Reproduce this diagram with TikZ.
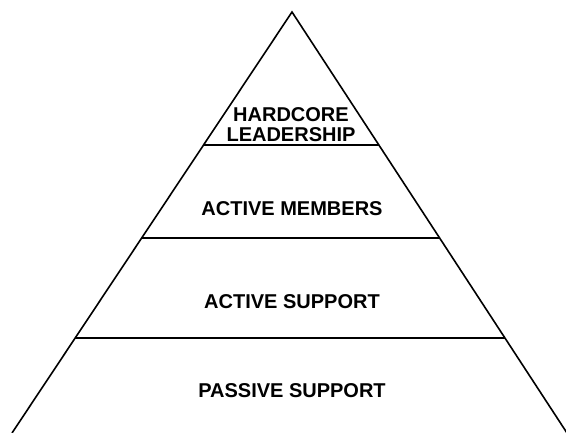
\documentclass[tikz,border=0pt]{standalone}
\usepackage{fontspec}
\setmainfont{Liberation Sans}
\usepackage{tikz}
\usetikzlibrary{calc}

\begin{document}
\begin{tikzpicture}[x=1pt,y=-1pt,
  layer/.style={font=\fontsize{20}{20}\selectfont\bfseries,align=center,inner sep=0pt}]
\useasboundingbox (0,0) rectangle (566,433);
\coordinate (apex) at (292,12);
\coordinate (bl) at (12,433);
\coordinate (br) at (567,433);
\coordinate (l1) at ($(apex)!0.316!(bl)$);
\coordinate (r1) at ($(apex)!0.316!(br)$);
\coordinate (l2) at ($(apex)!0.537!(bl)$);
\coordinate (r2) at ($(apex)!0.537!(br)$);
\coordinate (l3) at ($(apex)!0.774!(bl)$);
\coordinate (r3) at ($(apex)!0.774!(br)$);
\node [layer] (hc) at (291,125) {HARDCORE\\LEADERSHIP};
\node [layer] (am) at (292,209) {ACTIVE MEMBERS};
\node [layer] (as) at (292,302) {ACTIVE SUPPORT};
\node [layer] (ps) at (292,391) {PASSIVE SUPPORT};
\draw [black, line width=1.6pt] (bl) -- (apex) -- (br);
\draw [black, line width=1.6pt] (l1) -- (r1);
\draw [black, line width=1.6pt] (l2) -- (r2);
\draw [black, line width=1.6pt] (l3) -- (r3);
\end{tikzpicture}
\end{document}
